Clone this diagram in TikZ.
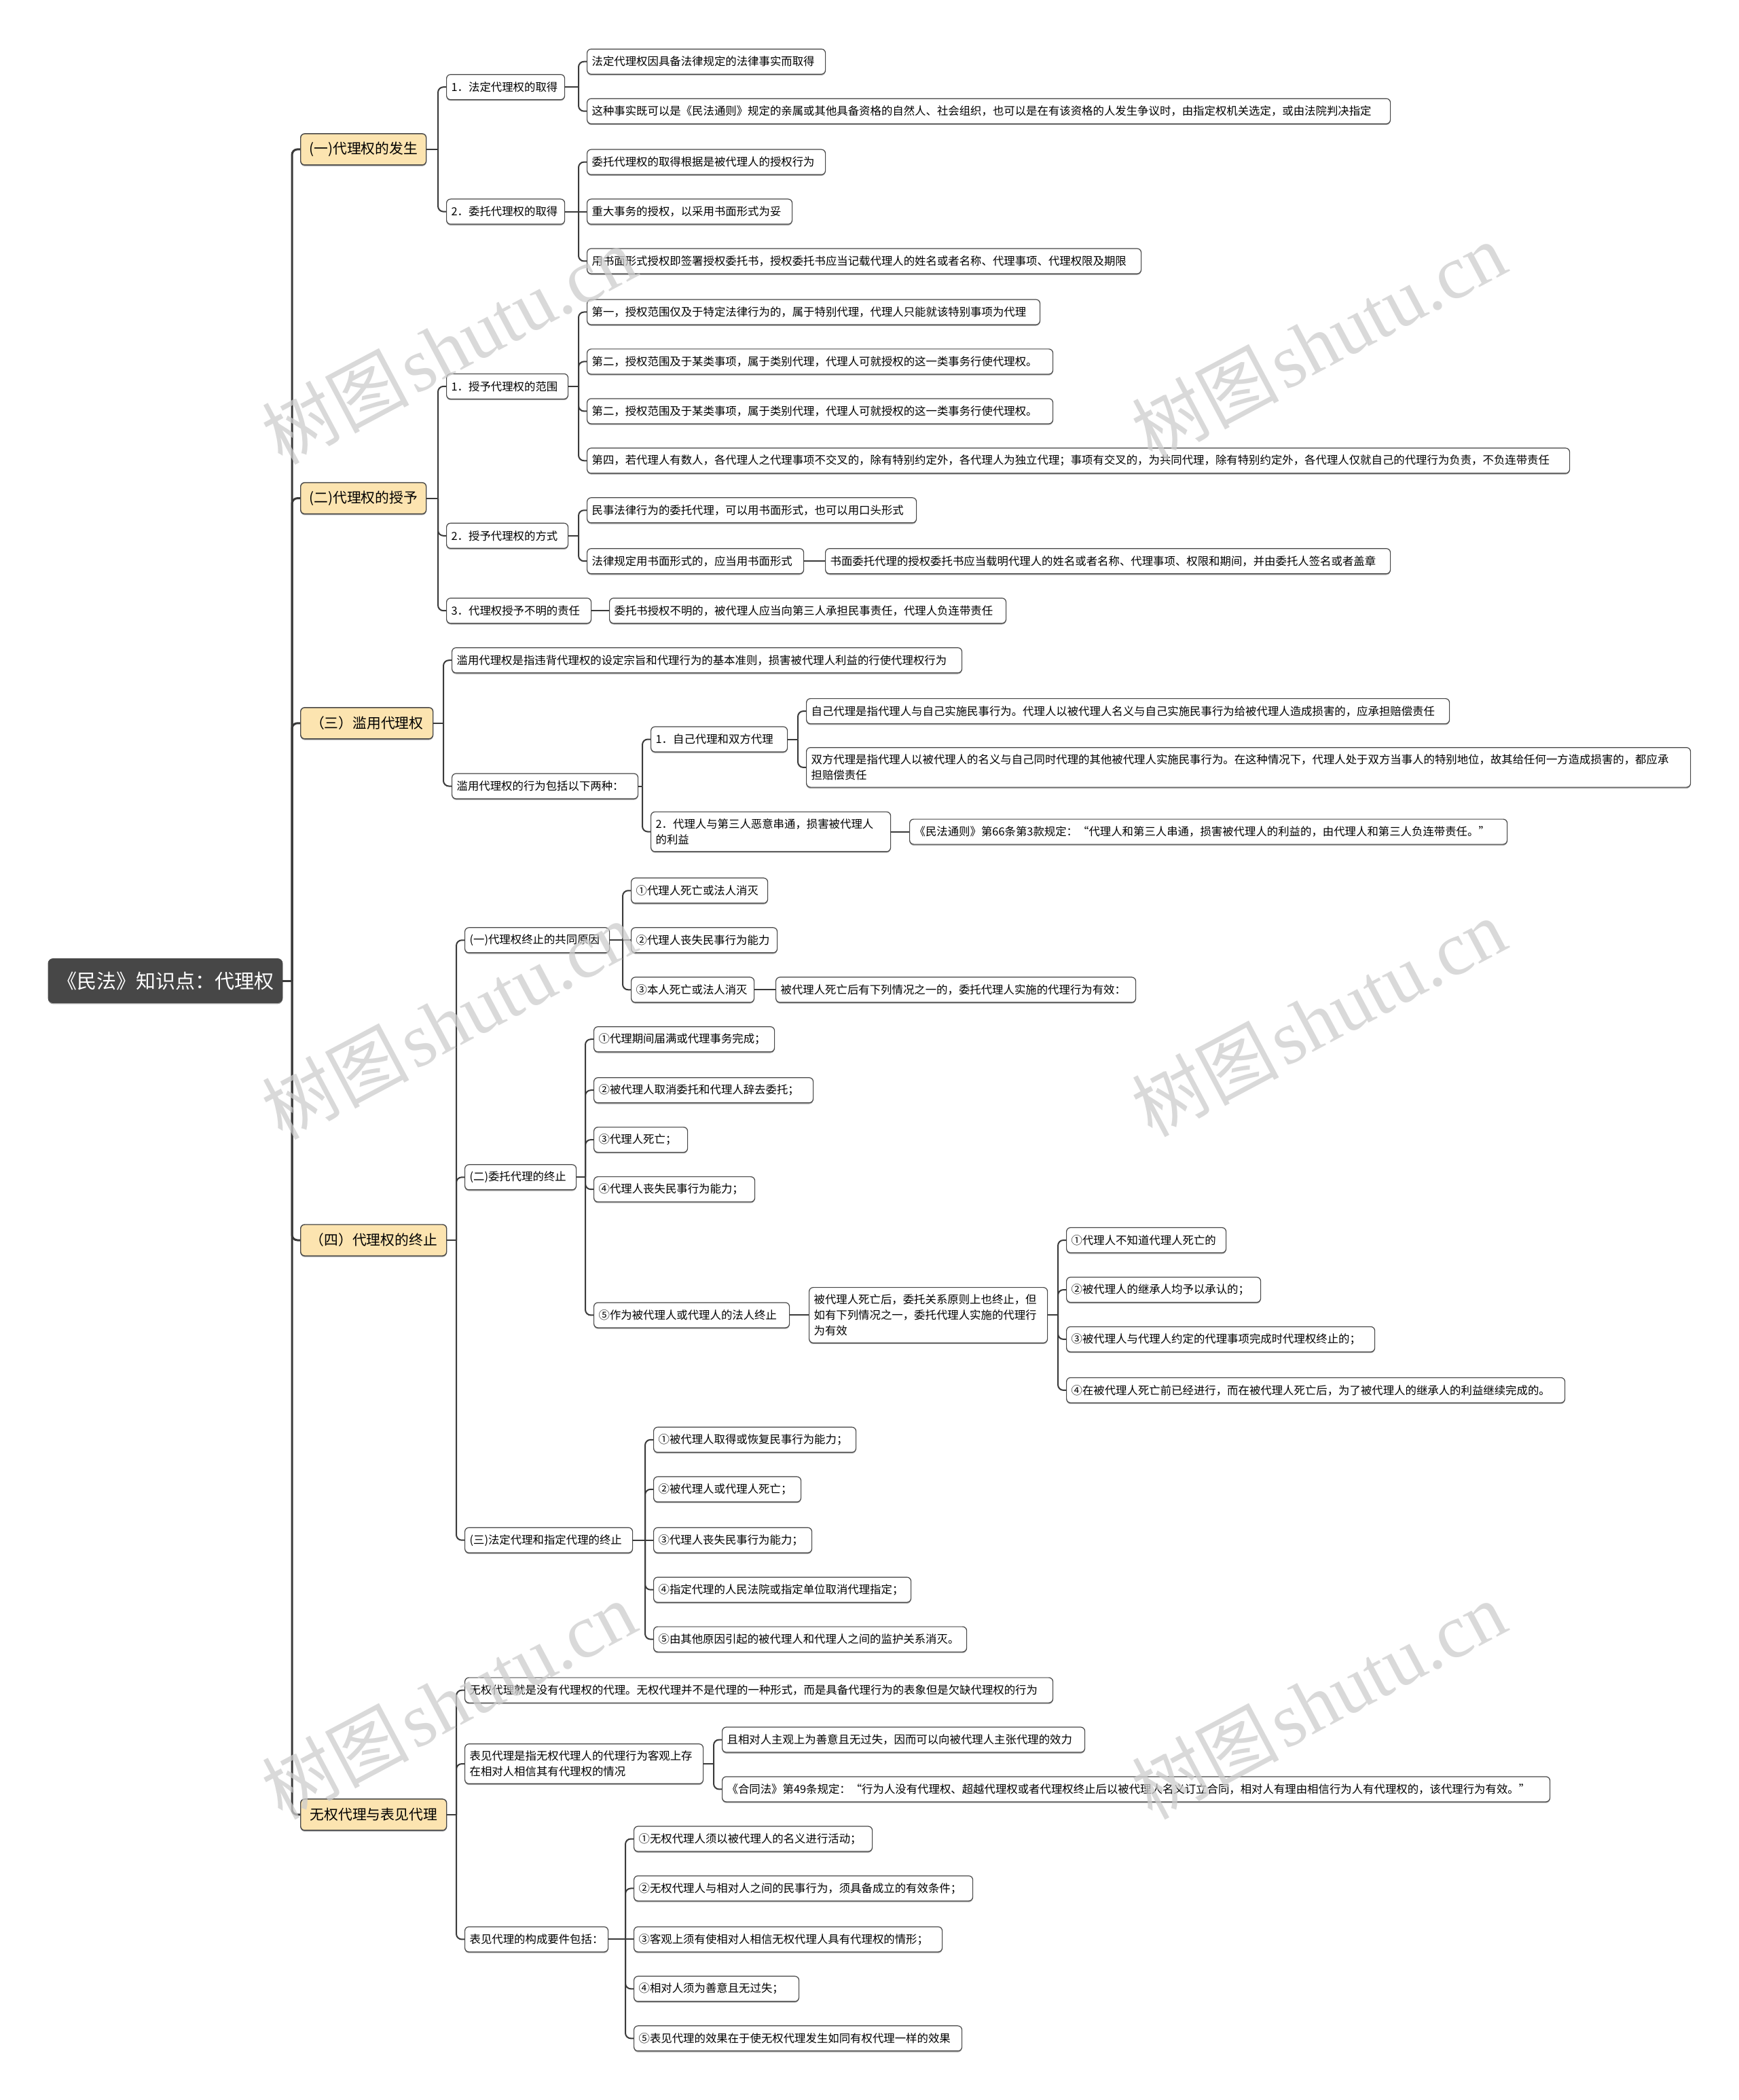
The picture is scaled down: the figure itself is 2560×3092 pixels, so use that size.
\documentclass[tikz,border=0pt]{standalone}
\usepackage{fontspec}
\newfontfamily\cjk{Noto Sans CJK SC}
\newfontfamily\wmlat{Liberation Serif}
\usetikzlibrary{shadows,calc}
\definecolor{lineC}{HTML}{3A3A3A}
\definecolor{bordC}{HTML}{474747}
\definecolor{rootC}{HTML}{474747}
\definecolor{lvlC}{HTML}{FCE4B0}
\definecolor{wmC}{HTML}{CDCDCD}
\tikzset{
  shad/.style={drop shadow={shadow xshift=0pt,shadow yshift=-0.9pt,opacity=.35,fill=black}},
  base/.style={draw=bordC, line width=0.6pt, rounded corners=3pt, fill=white,
    font=\cjk\fontsize{8.2}{11.6}\selectfont, inner xsep=3.5pt, inner ysep=2pt,
    minimum height=18.5pt, anchor=west, align=left, shad},
  nw/.code={\pgfmathsetmacro\mmw{#1*0.5-7}\edef\mmtmp{\noexpand\tikzset{text width=\mmw pt}}\mmtmp},
  leaf/.style={base},
  ml/.style={inner ysep=5pt},
  lone/.style={draw=bordC, line width=0.7pt, rounded corners=3pt, fill=lvlC,
    font=\cjk\fontsize{10.4}{12}\selectfont, minimum height=23pt, anchor=west,
    inner xsep=3pt, shad},
  rootn/.style={fill=rootC, draw=rootC, rounded corners=3.5pt, text=white,
    font=\cjk\fontsize{14.5}{17}\selectfont, minimum width=172.5pt, minimum height=32.5pt, shad},
  conn/.style={draw=lineC, line width=1pt},
  rconn/.style={draw=lineC, line width=1.5pt},
  wm/.style={text=wmC, opacity=0.75, rotate=28, inner sep=0pt}
}
\newcommand\mmlink[3][conn]{%
  \foreach \mmc in {#3}{%
    \path (\mmc.west) ++(-12,0) coordinate (mmt);
    \draw[#1] (#2.east) -- (mmt |- #2.east);
    \draw[#1, rounded corners=4pt] (mmt |- #2.east) |- (\mmc.west);
  }}
\newcommand\mmstraight[3][conn]{%
  \foreach \mmc in {#3}{\draw[#1] (#2.east) -- (\mmc.west);}}
\begin{document}
\begin{tikzpicture}[x=0.5pt,y=-0.5pt]
\fill[white] (0,0) rectangle (2560,3092);
\useasboundingbox (0,0) rectangle (2560,3092);

% root
\node[rootn] (root) at (243.5,1444) {《民法》知识点：代理权};

% level 1
\node[lone, minimum width=92.5pt] (la) at (442,219.9) {(一)代理权的发生};
\node[lone, minimum width=92.5pt] (lb) at (442,733.6) {(二)代理权的授予};
\node[lone, minimum width=97.5pt] (lc) at (442,1064.8) {（三）滥用代理权};
\node[lone, minimum width=107.5pt] (ld) at (442,1826) {（四）代理权的终止};
\node[lone, minimum width=107.5pt] (le) at (442,2671.9) {无权代理与表见代理};

% ---- A
\node[leaf, nw=174] (a1) at (657,128.2) {1．法定代理权的取得};
\node[leaf, nw=174] (a2) at (657,311.6) {2．委托代理权的取得};
\node[leaf, nw=351] (a1a) at (864,90.7) {法定代理权因具备法律规定的法律事实而取得};
\node[leaf, nw=1183] (a1b) at (864,163.7) {这种事实既可以是《民法通则》规定的亲属或其他具备资格的自然人、社会组织，也可以是在有该资格的人发生争议时，由指定权机关选定，或由法院判决指定};
\node[leaf, nw=351] (a2a) at (864,238.6) {委托代理权的取得根据是被代理人的授权行为};
\node[leaf, nw=302] (a2b) at (864,311.6) {重大事务的授权，以采用书面形式为妥};
\node[leaf, nw=816] (a2c) at (864,384.5) {用书面形式授权即签署授权委托书，授权委托书应当记载代理人的姓名或者名称、代理事项、代理权限及期限};

% ---- B
\node[leaf, nw=179] (b1) at (657,568.9) {1．授予代理权的范围};
\node[leaf, nw=179] (b2) at (657,788.8) {2．授予代理权的方式};
\node[leaf, nw=213] (b3) at (657,899.2) {3．代理权授予不明的责任};
\node[leaf, nw=667] (b1a) at (864,459.5) {第一，授权范围仅及于特定法律行为的，属于特别代理，代理人只能就该特别事项为代理};
\node[leaf, nw=686] (b1b) at (864,532.4) {第二，授权范围及于某类事项，属于类别代理，代理人可就授权的这一类事务行使代理权。};
\node[leaf, nw=686] (b1c) at (864,605.4) {第二，授权范围及于某类事项，属于类别代理，代理人可就授权的这一类事务行使代理权。};
\node[leaf, nw=1447] (b1d) at (864,678.3) {第四，若代理人有数人，各代理人之代理事项不交叉的，除有特别约定外，各代理人为独立代理；事项有交叉的，为共同代理，除有特别约定外，各代理人仅就自己的代理行为负责，不负连带责任};
\node[leaf, nw=485] (b2a) at (864,751.3) {民事法律行为的委托代理，可以用书面形式，也可以用口头形式};
\node[leaf, nw=319] (b2b) at (864,826.2) {法律规定用书面形式的，应当用书面形式};
\node[leaf, nw=832] (b2b1) at (1215,826.2) {书面委托代理的授权委托书应当载明代理人的姓名或者名称、代理事项、权限和期间，并由委托人签名或者盖章};
\node[leaf, nw=584] (b3a) at (897,899.2) {委托书授权不明的，被代理人应当向第三人承担民事责任，代理人负连带责任};

% ---- C
\node[leaf, nw=751] (c1) at (665,972.2) {滥用代理权是指违背代理权的设定宗旨和代理行为的基本准则，损害被代理人利益的行使代理权行为};
\node[leaf, nw=274] (c2) at (665,1157.5) {滥用代理权的行为包括以下两种：};
\node[leaf, nw=201] (c2a) at (958,1088.5) {1．自己代理和双方代理};
\node[leaf, ml, nw=353] (c2b) at (958,1224.6) {2．代理人与第三人恶意串通，损害被代理人\\的利益};
\node[leaf, nw=947] (c2a1) at (1187,1047.1) {自己代理是指代理人与自己实施民事行为。代理人以被代理人名义与自己实施民事行为给被代理人造成损害的，应承担赔偿责任};
\node[leaf, ml, nw=1302] (c2a2) at (1187,1129.9) {双方代理是指代理人以被代理人的名义与自己同时代理的其他被代理人实施民事行为。在这种情况下，代理人处于双方当事人的特别地位，故其给任何一方造成损害的，都应承\\担赔偿责任};
\node[leaf, nw=880] (c2b1) at (1339,1224.6) {《民法通则》第66条第3款规定：“代理人和第三人串通，损害被代理人的利益的，由代理人和第三人负连带责任。”};

% ---- D
\node[leaf, nw=213] (d1) at (684,1384.3) {(一)代理权终止的共同原因};
\node[leaf, nw=164] (d2) at (684,1733.3) {(二)委托代理的终止};
\node[leaf, nw=247] (d3) at (684,2267.7) {(三)法定代理和指定代理的终止};
\node[leaf, nw=201] (d1a) at (929,1311.3) {①代理人死亡或法人消灭};
\node[leaf, nw=215] (d1b) at (929,1384.3) {②代理人丧失民事行为能力};
\node[leaf, nw=181] (d1c) at (929,1457.3) {③本人死亡或法人消灭};
\node[leaf, nw=530] (d1c1) at (1142,1457.3) {被代理人死亡后有下列情况之一的，委托代理人实施的代理行为有效：};
\node[leaf, nw=266] (d2a) at (874,1530.2) {①代理期间届满或代理事务完成；};
\node[leaf, nw=323] (d2b) at (874,1605.2) {②被代理人取消委托和代理人辞去委托；};
\node[leaf, nw=138] (d2c) at (874,1678.1) {③代理人死亡；};
\node[leaf, nw=237] (d2d) at (874,1751.1) {④代理人丧失民事行为能力；};
\node[leaf, nw=288] (d2e) at (874,1936.4) {⑤作为被代理人或代理人的法人终止};
\node[leaf, ml, nw=351] (d2e1) at (1191,1936.4) {被代理人死亡后，委托关系原则上也终止，但\\如有下列情况之一，委托代理人实施的代理行\\为有效};
\node[leaf, nw=235] (d2e1a) at (1570,1826) {①代理人不知道代理人死亡的};
\node[leaf, nw=286] (d2e1b) at (1570,1899) {②被代理人的继承人均予以承认的；};
\node[leaf, nw=454] (d2e1c) at (1570,1971.9) {③被代理人与代理人约定的代理事项完成时代理权终止的；};
\node[leaf, nw=734] (d2e1d) at (1570,2046.9) {④在被代理人死亡前已经进行，而在被代理人死亡后，为了被代理人的继承人的利益继续完成的。};
\node[leaf, nw=298] (d3a) at (962,2119.8) {①被代理人取得或恢复民事行为能力；};
\node[leaf, nw=217] (d3b) at (962,2192.8) {②被代理人或代理人死亡；};
\node[leaf, nw=233] (d3c) at (962,2267.7) {③代理人丧失民事行为能力；};
\node[leaf, nw=379] (d3d) at (962,2340.7) {④指定代理的人民法院或指定单位取消代理指定；};
\node[leaf, nw=461] (d3e) at (962,2413.6) {⑤由其他原因引起的被代理人和代理人之间的监护关系消灭。};

% ---- E
\node[leaf, nw=866] (e1) at (684,2488.6) {无权代理就是没有代理权的代理。无权代理并不是代理的一种形式，而是具备代理行为的表象但是欠缺代理权的行为};
\node[leaf, ml, nw=351] (e2) at (684,2597) {表见代理是指无权代理人的代理行为客观上存\\在相对人相信其有代理权的情况};
\node[leaf, nw=211] (e3) at (684,2855.4) {表见代理的构成要件包括：};
\node[leaf, nw=534] (e2a) at (1063,2561.5) {且相对人主观上为善意且无过失，因而可以向被代理人主张代理的效力};
\node[leaf, nw=1219] (e2b) at (1063,2634.4) {《合同法》第49条规定：“行为人没有代理权、超越代理权或者代理权终止后以被代理人名义订立合同，相对人有理由相信行为人有代理权的，该代理行为有效。”};
\node[leaf, nw=351] (e3a) at (933,2707.5) {①无权代理人须以被代理人的名义进行活动；};
\node[leaf, nw=499] (e3b) at (933,2780.4) {②无权代理人与相对人之间的民事行为，须具备成立的有效条件；};
\node[leaf, nw=454] (e3c) at (933,2855.4) {③客观上须有使相对人相信无权代理人具有代理权的情形；};
\node[leaf, nw=243] (e3d) at (933,2928.3) {④相对人须为善意且无过失；};
\node[leaf, nw=483] (e3e) at (933,3001.3) {⑤表见代理的效果在于使无权代理发生如同有权代理一样的效果};

% ---- connectors
\mmlink[rconn]{root}{la,lb,lc,ld,le}
\mmlink{la}{a1,a2}
\mmlink{a1}{a1a,a1b}
\mmlink{a2}{a2a,a2c}
\mmstraight{a2}{a2b}
\mmlink{lb}{b1,b2,b3}
\mmlink{b1}{b1a,b1b,b1c,b1d}
\mmlink{b2}{b2a,b2b}
\mmstraight{b2b}{b2b1}
\mmstraight{b3}{b3a}
\mmlink{lc}{c1,c2}
\mmlink{c2}{c2a,c2b}
\mmlink{c2a}{c2a1,c2a2}
\mmstraight{c2b}{c2b1}
\mmlink{ld}{d1,d2,d3}
\mmlink{d1}{d1a,d1c}
\mmstraight{d1}{d1b}
\mmstraight{d1c}{d1c1}
\mmlink{d2}{d2a,d2b,d2c,d2d,d2e}
\mmstraight{d2e}{d2e1}
\mmlink{d2e1}{d2e1a,d2e1b,d2e1c,d2e1d}
\mmlink{d3}{d3a,d3b,d3d,d3e}
\mmstraight{d3}{d3c}
\mmlink{le}{e1,e2,e3}
\mmlink{e2}{e2a,e2b}
\mmlink{e3}{e3a,e3b,e3d,e3e}
\mmstraight{e3}{e3c}

% ---- watermarks
\foreach \wx/\wy [count=\wi] in {661/509, 1942/503, 661/1503, 1942/1499, 661/2504, 1942/2504}{
  \node[wm] (wm\wi) at (\wx,\wy) {{\cjk\fontsize{54}{60}\selectfont 树图} {\wmlat\fontsize{56}{60}\selectfont shutu.cn}};
}
\end{tikzpicture}
\end{document}
